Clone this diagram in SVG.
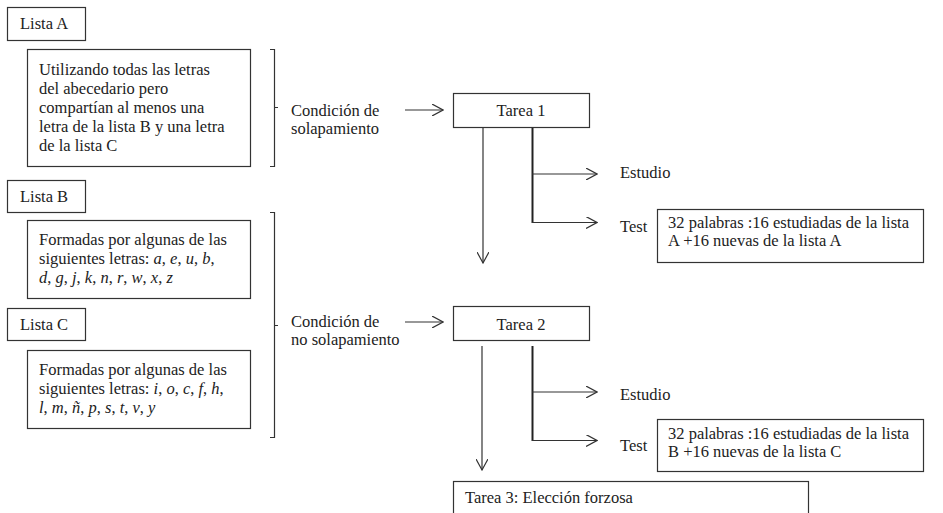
<svg xmlns="http://www.w3.org/2000/svg" width="943" height="513" viewBox="0 0 943 513">
<style>
text{font-family:"Liberation Serif","Times New Roman",serif;font-size:16.5px;fill:#222}
.box{fill:#fff;stroke:#333;stroke-width:1.2}
.ln{fill:none;stroke:#333;stroke-width:1.2}
.thk{fill:none;stroke:#222;stroke-width:2}
.i{font-style:italic}
</style>
<defs>
<marker id="ah" viewBox="0 0 12 12" refX="11" refY="6" markerWidth="12" markerHeight="12" markerUnits="userSpaceOnUse" orient="auto">
<path d="M0,0 L11,6 L0,12" fill="none" stroke="#333" stroke-width="1.2"/>
</marker>
</defs>
<rect width="943" height="513" fill="#fff"/>

<g id="listaA"><rect class="box" x="7.5" y="7.5" width="78" height="33"/><text x="20" y="29">Lista A</text></g>
<g id="boxA"><rect class="box" x="27.5" y="49.5" width="223" height="117"/>
<text x="39" y="75">Utilizando todas las letras</text>
<text x="39" y="94">del abecedario pero</text>
<text x="39" y="113">compartían al menos una</text>
<text x="39" y="132">letra de la lista B y una letra</text>
<text x="39" y="151">de la lista C</text></g>

<g id="listaB"><rect class="box" x="7.5" y="180.5" width="78" height="32"/><text x="20" y="202">Lista B</text></g>
<g id="boxB"><rect class="box" x="27.5" y="220.5" width="223" height="78"/>
<text x="39" y="245">Formadas por algunas de las</text>
<text x="39" y="264">siguientes letras: <tspan class="i">a</tspan>, <tspan class="i">e</tspan>, <tspan class="i">u</tspan>, <tspan class="i">b</tspan>,</text>
<text x="39" y="283"><tspan class="i">d</tspan>, <tspan class="i">g</tspan>, <tspan class="i">j</tspan>, <tspan class="i">k</tspan>, <tspan class="i">n</tspan>, <tspan class="i">r</tspan>, <tspan class="i">w</tspan>, <tspan class="i">x</tspan>, <tspan class="i">z</tspan></text></g>

<g id="listaC"><rect class="box" x="7.5" y="308.5" width="78" height="32"/><text x="20" y="330">Lista C</text></g>
<g id="boxC"><rect class="box" x="27.5" y="350.5" width="223" height="78"/>
<text x="39" y="375">Formadas por algunas de las</text>
<text x="39" y="394">siguientes letras: <tspan class="i">i</tspan>, <tspan class="i">o</tspan>, <tspan class="i">c</tspan>, <tspan class="i">f</tspan>, <tspan class="i">h</tspan>,</text>
<text x="39" y="413"><tspan class="i">l</tspan>, <tspan class="i">m</tspan>, <tspan class="i">ñ</tspan>, <tspan class="i">p</tspan>, <tspan class="i">s</tspan>, <tspan class="i">t</tspan>, <tspan class="i">v</tspan>, <tspan class="i">y</tspan></text></g>

<g id="cond1"><text x="291" y="116">Condición de</text><text x="291" y="134">solapamiento</text></g>
<g id="cond2"><text x="291" y="327">Condición de</text><text x="291" y="345">no solapamiento</text></g>

<g id="tarea1"><rect class="box" x="453.5" y="93.5" width="136" height="34"/><text x="521" y="116" text-anchor="middle">Tarea 1</text></g>
<g id="tarea2"><rect class="box" x="453.5" y="306.5" width="136" height="34"/><text x="521" y="330" text-anchor="middle">Tarea 2</text></g>
<g id="tarea3"><rect class="box" x="453.5" y="481.5" width="355" height="40"/><text x="465" y="503">Tarea 3: Elección forzosa</text></g>

<g id="estudio1"><text x="620" y="178">Estudio</text></g>
<g id="test1"><text x="620" y="232">Test</text></g>
<g id="testbox1"><rect class="box" x="657.5" y="209.5" width="266" height="53"/>
<text x="668" y="228">32 palabras :16 estudiadas de la lista</text>
<text x="668" y="246">A +16 nuevas de la lista A</text></g>

<g id="estudio2"><text x="620" y="400">Estudio</text></g>
<g id="test2"><text x="620" y="451">Test</text></g>
<g id="testbox2"><rect class="box" x="657.5" y="419.5" width="266" height="52"/>
<text x="668" y="439">32 palabras :16 estudiadas de la lista</text>
<text x="668" y="457">B +16 nuevas de la lista C</text></g>

<g id="connectors">
<path class="ln" d="M270,49.5 H274.5 V166.5 H270 M274.5,107.5 H278"/>
<path class="ln" d="M270,212.5 H274.5 V437.5 H270 M274.5,325.5 H278"/>
<line class="ln" x1="405" y1="110" x2="443" y2="110" marker-end="url(#ah)"/>
<line class="ln" x1="405" y1="322" x2="443" y2="322" marker-end="url(#ah)"/>
<line class="ln" x1="483" y1="128" x2="483" y2="263" marker-end="url(#ah)"/>
<line class="thk" x1="532.5" y1="128" x2="532.5" y2="223"/>
<line class="ln" x1="532" y1="174" x2="597" y2="174" marker-end="url(#ah)"/>
<line class="ln" x1="532" y1="222.5" x2="597" y2="222.5" marker-end="url(#ah)"/>
<line class="ln" x1="482" y1="346" x2="482" y2="470" marker-end="url(#ah)"/>
<line class="thk" x1="532.5" y1="346" x2="532.5" y2="441"/>
<line class="ln" x1="532" y1="392" x2="597" y2="392" marker-end="url(#ah)"/>
<line class="ln" x1="532" y1="440.5" x2="597" y2="440.5" marker-end="url(#ah)"/>
</g>
</svg>
